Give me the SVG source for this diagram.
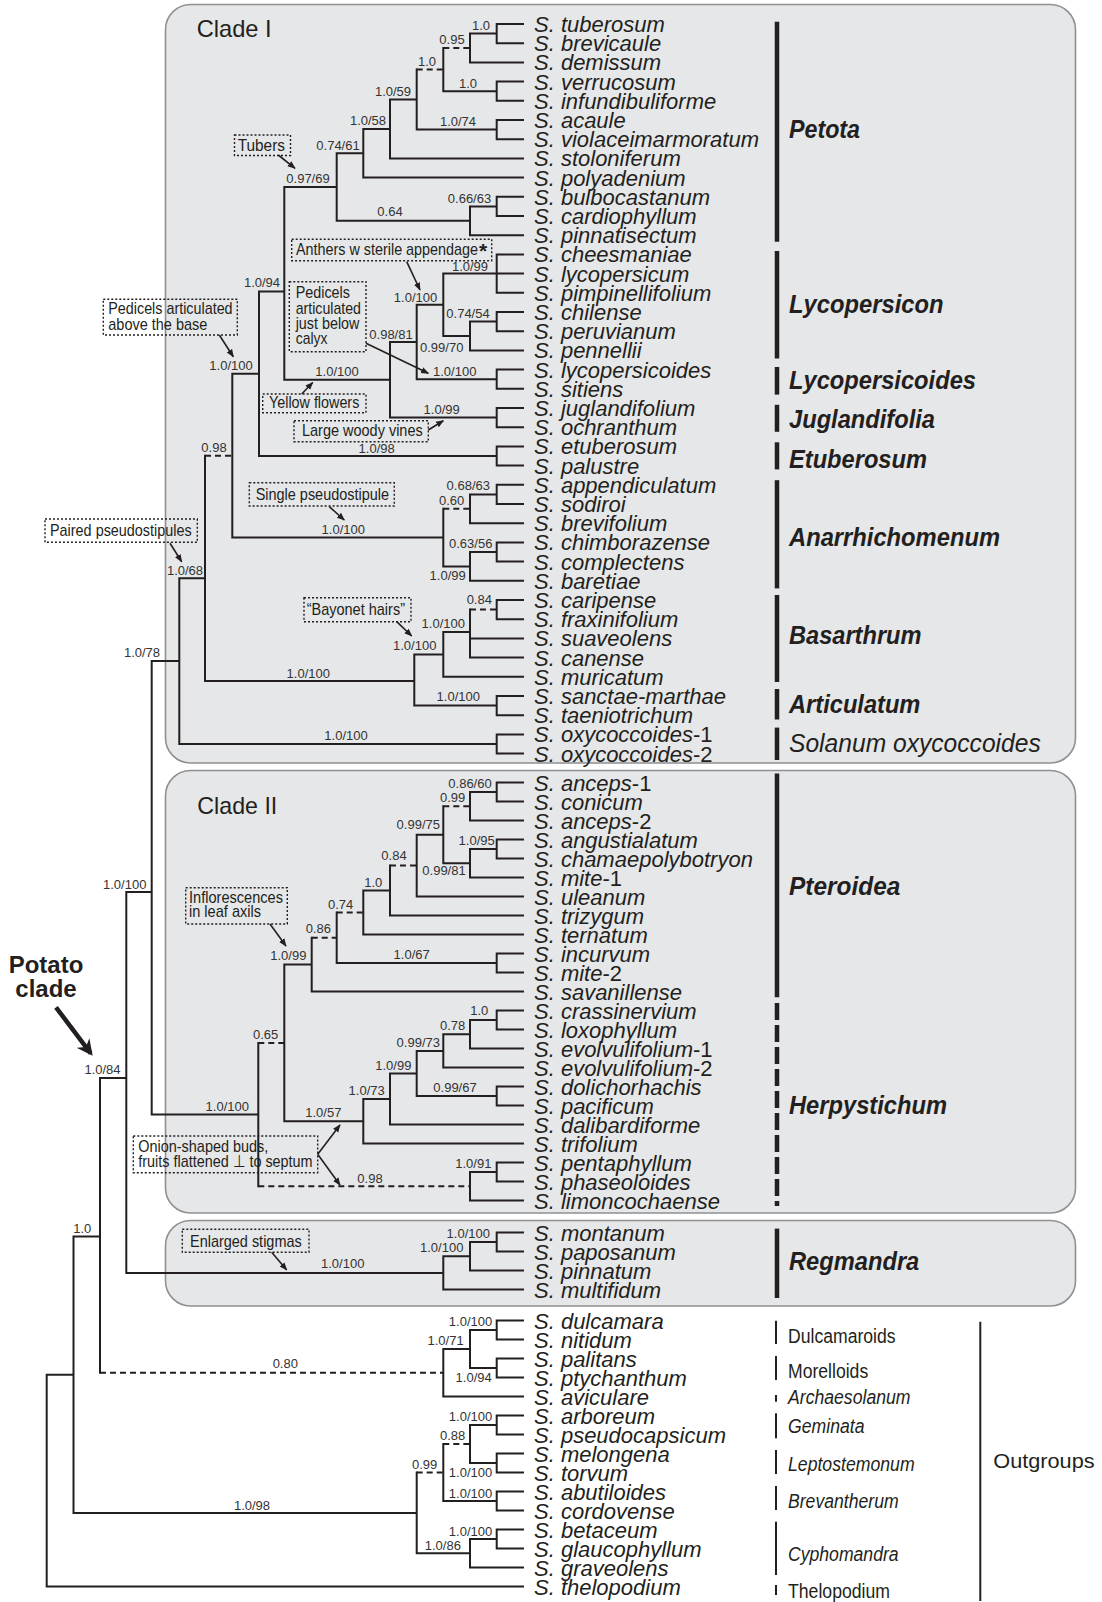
<svg xmlns="http://www.w3.org/2000/svg" width="1102" height="1602" viewBox="0 0 1102 1602">
<style>
.bg{fill:#fff}
.box{fill:#e6e7e8;stroke:#8f9092;stroke-width:1.6}
.br{fill:none;stroke:#231f20;stroke-width:2;stroke-linecap:square}
.da{fill:none;stroke:#231f20;stroke-width:2;stroke-dasharray:6 4}
.bar{stroke:#231f20;stroke-width:4.5}
.thin{stroke:#231f20;stroke-width:2}
.ann{fill:none;stroke:#231f20;stroke-width:1.4;stroke-dasharray:2 2}
.arr{fill:none;stroke:#231f20;stroke-width:1.6}
text{font-family:'Liberation Sans',Arial,sans-serif;fill:#231f20}
.t{font-size:22px;font-style:italic}
.u{font-style:normal}
.s{font-size:13px;fill:#333;text-anchor:middle}
.a{font-size:17px}
.g{font-size:25px;font-weight:bold;font-style:italic}
.gi{font-size:25px;font-style:italic}
.o{font-size:20px}
.oi{font-size:20px;font-style:italic}
.c{font-size:24px}
</style>
<defs>
<marker id="ah" viewBox="0 0 10 10" refX="9" refY="5" markerWidth="8" markerHeight="8" markerUnits="userSpaceOnUse" orient="auto"><path d="M0,1L10,5L0,9z" fill="#231f20"/></marker>
<marker id="ahb" viewBox="0 0 10 10" refX="8" refY="5" markerWidth="16" markerHeight="16" markerUnits="userSpaceOnUse" orient="auto"><path d="M0,0L10,5L0,10L3,5z" fill="#231f20"/></marker>
</defs>
<rect class="bg" x="0" y="0" width="1102" height="1602"/>
<g id="boxes">
<rect id="cladeI-box" class="box" x="165.5" y="4.5" width="910" height="758.5" rx="25"/>
<rect id="cladeII-box" class="box" x="165.5" y="770.5" width="910" height="442.5" rx="25"/>
<rect id="regmandra-box" class="box" x="165.5" y="1220.5" width="910" height="85.5" rx="25"/>
<text class="c" x="196.7" y="36.7" textLength="75" lengthAdjust="spacingAndGlyphs">Clade I</text>
<text class="c" x="197.3" y="814" textLength="80" lengthAdjust="spacingAndGlyphs">Clade II</text>
</g>
<g id="connectors">
<path class="br" d="M496.7 24H523M496.7 43.2H523M470 62.4H523M496.7 81.6H523M496.7 100.8H523M496.7 120H523M496.7 139.2H523M390 158.4H523M363.3 177.6H523M496.7 196.8H523M496.7 216H523M470 235.2H523M496.7 254.4H523M496.7 273.6H523M496.7 292.8H523M496.7 312H523M496.7 331.2H523M470 350.4H523M496.7 369.6H523M496.7 388.8H523M496.7 408H523M496.7 427.2H523M496.7 446.4H523M496.7 465.6H523M496.7 484.8H523M496.7 504H523M470 523.2H523M496.7 542.4H523M496.7 561.6H523M470 580.8H523M496.7 600H523M496.7 619.2H523M470 638.4H523M470 657.6H523M443.3 676.8H523M496.7 696H523M496.7 715.2H523M496.7 734.4H523M496.7 753.6H523
M496.7 24V43.2M470 33.6H496.7M470 33.6V62.4M496.7 81.6V100.8M443.3 91.2H496.7M443.3 48V91.2M496.7 120V139.2M416.7 129.6H496.7M416.7 69.6V129.6M390 99.6H416.7M390 99.6V158.4M363.3 129H390M363.3 129V177.6M336.7 153.3H363.3M496.7 196.8V216M470 206.4H496.7M470 206.4V235.2M336.7 220.8H470M336.7 153.3V220.8M284.3 187H336.7
M496.7 254.4V292.8M443.3 273.6H496.7M496.7 312V331.2M470 321.6H496.7M470 321.6V350.4M443.3 336H470M443.3 273.6V336M416.7 304.8H443.3M496.7 369.6V388.8M416.7 379.2H496.7M416.7 304.8V379.2M390 342H416.7M496.7 408V427.2M390 417.6H496.7M390 342V417.6M284.3 379.8H390M284.3 187V379.8M259 291.5H284.3M496.7 446.4V465.6M259 456H496.7M259 291.5V456M232.3 373.7H259
M496.7 484.8V504M470 494.4H496.7M470 494.4V523.2M496.7 542.4V561.6M470 552H496.7M470 552V580.8M443.3 566.4H470M443.3 508.8V566.4M232.3 537.6H443.3M232.3 373.7V537.6
M496.7 600V619.2M470 609.6V657.6M443.3 632H470M443.3 632V676.8M414.3 654.4H443.3M496.7 696V715.2M414.3 705.6H496.7M414.3 654.4V705.6M205 681H414.3M205 455.7V681M179.3 578.3H205M496.7 734.4V753.6M179.3 744H496.7M179.3 578.3V744M151.7 661H179.3
M496.7 782.5H523M496.7 801.5H523M470 820.5H523M496.7 839.5H523M496.7 858.5H523M470 877.5H523M416.7 896.5H523M390 915.5H523M363.3 934.5H523M496.7 953.5H523M496.7 972.5H523M311.7 991.5H523M496.7 1010.5H523M496.7 1029.5H523M470 1048.5H523M443.3 1067.5H523M496.7 1086.5H523M496.7 1105.5H523M390 1124.5H523M363.3 1143.5H523M496.7 1162.5H523M496.7 1181.5H523M470 1200.5H523
M496.7 782.5V801.5M470 792H496.7M470 792V820.5M496.7 839.5V858.5M470 849H496.7M470 849V877.5M443.3 863.2H470M443.3 806.2V863.2M416.7 834.7H443.3M416.7 834.7V896.5M390 865.6V915.5M363.3 890.5H390M363.3 890.5V934.5M496.7 953.5V972.5M336.7 963H496.7M336.7 912.5V963M311.7 937.7V991.5M284.3 964.6H311.7
M496.7 1010.5V1029.5M470 1020H496.7M470 1020V1048.5M443.3 1034.2H470M443.3 1034.2V1067.5M416.7 1050.9H443.3M496.7 1086.5V1105.5M416.7 1096H496.7M416.7 1050.9V1096M390 1073.4H416.7M390 1073.4V1124.5M363.3 1099H390M363.3 1099V1143.5M284.3 1121.2H363.3M284.3 964.6V1121.2M496.7 1162.5V1181.5M470 1172H496.7M470 1172V1200.5M258.3 1042.9V1186.2M151.7 1114.6H258.3M151.7 661V1114.6M126.3 892H151.7
M496.7 1232.5H523M496.7 1251.5H523M470 1270.5H523M443.3 1289.5H523M496.7 1232.5V1251.5M470 1242H496.7M470 1242V1270.5M443.3 1256.2H470M443.3 1256.2V1289.5M126.3 1272.9H443.3M126.3 892V1272.9M100 1078H126.3
M496.7 1320.5H523M496.7 1339.5H523M496.7 1358.5H523M496.7 1377.5H523M443.3 1396.5H523M496.7 1415.5H523M496.7 1434.5H523M496.7 1453.5H523M496.7 1472.5H523M496.7 1491.5H523M496.7 1510.5H523M496.7 1529.5H523M496.7 1548.5H523M470 1567.5H523M46.7 1586.5H523
M496.7 1320.5V1339.5M470 1330H496.7M496.7 1358.5V1377.5M470 1368H496.7M470 1330V1368M443.3 1349H470M443.3 1349V1396.5M100 1078V1372.7M73.5 1236.5H100M496.7 1415.5V1434.5M470 1425H496.7M496.7 1453.5V1472.5M470 1463H496.7M470 1425V1463M496.7 1491.5V1510.5M443.3 1501H496.7M443.3 1444V1501M496.7 1529.5V1548.5M470 1539H496.7M470 1539V1567.5M416.7 1553.2H470M416.7 1472.5V1553.2M73.5 1512.9H416.7M73.5 1236.5V1512.9M46.7 1374.7H73.5M46.7 1374.7V1586.5"/>
<path class="da" d="M443.3 48H470M416.7 69.6H443.3M443.3 508.8H470M205 455.7H232.3M470 609.6H496.7M443.3 806.2H470M390 865.6H416.7M336.7 912.5H363.3M311.7 937.7H336.7M258.3 1042.9H284.3M258.3 1186.2H470M100 1372.7H443.3M443.3 1444H470M416.7 1472.5H443.3"/>
</g>
<g id="supports">
<text class="s" x="481" y="30">1.0</text>
<text class="s" x="452" y="44">0.95</text>
<text class="s" x="468" y="87.5">1.0</text>
<text class="s" x="427" y="65.5">1.0</text>
<text class="s" x="458" y="125.5">1.0/74</text>
<text class="s" x="393" y="95.5">1.0/59</text>
<text class="s" x="368" y="125">1.0/58</text>
<text class="s" x="338" y="149.5">0.74/61</text>
<text class="s" x="469.5" y="203">0.66/63</text>
<text class="s" x="390" y="216">0.64</text>
<text class="s" x="308" y="183">0.97/69</text>
<text class="s" x="470" y="271">1.0/99</text>
<text class="s" x="468" y="318">0.74/54</text>
<text class="s" x="441.7" y="351.5">0.99/70</text>
<text class="s" x="415.5" y="301.5">1.0/100</text>
<text class="s" x="454.7" y="375.5">1.0/100</text>
<text class="s" x="391" y="338.5">0.98/81</text>
<text class="s" x="441.7" y="413.5">1.0/99</text>
<text class="s" x="337" y="376">1.0/100</text>
<text class="s" x="262" y="287">1.0/94</text>
<text class="s" x="376.7" y="452.5">1.0/98</text>
<text class="s" x="231" y="369.5">1.0/100</text>
<text class="s" x="214" y="451.5">0.98</text>
<text class="s" x="468.3" y="490">0.68/63</text>
<text class="s" x="451.7" y="504.5">0.60</text>
<text class="s" x="470.7" y="548">0.63/56</text>
<text class="s" x="447.7" y="580">1.0/99</text>
<text class="s" x="343.3" y="534">1.0/100</text>
<text class="s" x="479.3" y="604">0.84</text>
<text class="s" x="443.3" y="627.5">1.0/100</text>
<text class="s" x="414.7" y="650">1.0/100</text>
<text class="s" x="458.3" y="701">1.0/100</text>
<text class="s" x="308.3" y="678">1.0/100</text>
<text class="s" x="185" y="575">1.0/68</text>
<text class="s" x="346" y="740">1.0/100</text>
<text class="s" x="142" y="657">1.0/78</text>
<text class="s" x="470" y="788">0.86/60</text>
<text class="s" x="452.7" y="801.5">0.99</text>
<text class="s" x="476.7" y="845">1.0/95</text>
<text class="s" x="444" y="874.5">0.99/81</text>
<text class="s" x="418.3" y="829">0.99/75</text>
<text class="s" x="394" y="860">0.84</text>
<text class="s" x="373.3" y="886.5">1.0</text>
<text class="s" x="340.7" y="908.5">0.74</text>
<text class="s" x="411.7" y="958.5">1.0/67</text>
<text class="s" x="318.3" y="933">0.86</text>
<text class="s" x="288.3" y="960">1.0/99</text>
<text class="s" x="479.3" y="1015">1.0</text>
<text class="s" x="452.7" y="1030">0.78</text>
<text class="s" x="418.3" y="1046.5">0.99/73</text>
<text class="s" x="455" y="1092">0.99/67</text>
<text class="s" x="393.3" y="1069.5">1.0/99</text>
<text class="s" x="366.7" y="1095">1.0/73</text>
<text class="s" x="323.3" y="1116.5">1.0/57</text>
<text class="s" x="265.7" y="1038.5">0.65</text>
<text class="s" x="473.3" y="1168">1.0/91</text>
<text class="s" x="370" y="1182.5">0.98</text>
<text class="s" x="227.3" y="1110.5">1.0/100</text>
<text class="s" x="124.7" y="888.5">1.0/100</text>
<text class="s" x="468.3" y="1237.5">1.0/100</text>
<text class="s" x="441.7" y="1252">1.0/100</text>
<text class="s" x="342.7" y="1268">1.0/100</text>
<text class="s" x="102.5" y="1073.5">1.0/84</text>
<text class="s" x="470.5" y="1325.5">1.0/100</text>
<text class="s" x="473.7" y="1381.5">1.0/94</text>
<text class="s" x="445.6" y="1345">1.0/71</text>
<text class="s" x="285.3" y="1368">0.80</text>
<text class="s" x="82.3" y="1233">1.0</text>
<text class="s" x="470.5" y="1421">1.0/100</text>
<text class="s" x="470.5" y="1477">1.0/100</text>
<text class="s" x="452.6" y="1440">0.88</text>
<text class="s" x="424.6" y="1469">0.99</text>
<text class="s" x="470.5" y="1497.5">1.0/100</text>
<text class="s" x="470.5" y="1535.5">1.0/100</text>
<text class="s" x="442.8" y="1550">1.0/86</text>
<text class="s" x="252" y="1509.5">1.0/98</text>
</g>
<g id="annotations">
<rect class="ann" x="234.5" y="135" width="56" height="20.5"/>
<text class="a" x="237.7" y="151" textLength="47.3" lengthAdjust="spacingAndGlyphs">Tubers</text>
<line class="arr" x1="278.3" y1="155" x2="295" y2="168.3" marker-end="url(#ah)"/>
<rect class="ann" x="291.7" y="239.3" width="200" height="21.4"/>
<text class="a" x="296" y="255" textLength="182" lengthAdjust="spacingAndGlyphs">Anthers w sterile appendage</text>
<text x="479" y="258" style="font-size:21px;font-weight:bold">*</text>
<line class="arr" x1="406.7" y1="261.7" x2="420" y2="290" marker-end="url(#ah)"/>
<rect class="ann" x="289.3" y="281.7" width="76.7" height="70"/>
<text class="a" x="295.7" y="298.3" textLength="54.3" lengthAdjust="spacingAndGlyphs">Pedicels</text>
<text class="a" x="295.7" y="313.5" textLength="65.3" lengthAdjust="spacingAndGlyphs">articulated</text>
<text class="a" x="295.7" y="329" textLength="63.7" lengthAdjust="spacingAndGlyphs">just below</text>
<text class="a" x="295.7" y="343.5" textLength="31.7" lengthAdjust="spacingAndGlyphs">calyx</text>
<line class="arr" x1="366" y1="343.3" x2="428.3" y2="373.3" marker-end="url(#ah)"/>
<rect class="ann" x="262.7" y="394" width="103.3" height="18.7"/>
<text class="a" x="269" y="408" textLength="90.3" lengthAdjust="spacingAndGlyphs">Yellow flowers</text>
<line class="arr" x1="301.7" y1="394" x2="312.7" y2="382.5" marker-end="url(#ah)"/>
<rect class="ann" x="294" y="420.7" width="134.3" height="21"/>
<text class="a" x="302" y="435.5" textLength="120.7" lengthAdjust="spacingAndGlyphs">Large woody vines</text>
<line class="arr" x1="428.3" y1="430" x2="443.3" y2="420.7" marker-end="url(#ah)"/>
<rect class="ann" x="103.3" y="299.3" width="134" height="35.7"/>
<text class="a" x="108.3" y="314" textLength="124.3" lengthAdjust="spacingAndGlyphs">Pedicels articulated</text>
<text class="a" x="108.3" y="330" textLength="99" lengthAdjust="spacingAndGlyphs">above the base</text>
<line class="arr" x1="219.3" y1="335" x2="233.3" y2="356.7" marker-end="url(#ah)"/>
<rect class="ann" x="249.3" y="482.7" width="145" height="23.3"/>
<text class="a" x="255.7" y="500" textLength="133.3" lengthAdjust="spacingAndGlyphs">Single pseudostipule</text>
<line class="arr" x1="329.3" y1="506.7" x2="344.3" y2="520" marker-end="url(#ah)"/>
<rect class="ann" x="45" y="519" width="152.3" height="23.3"/>
<text class="a" x="50" y="536" textLength="141.7" lengthAdjust="spacingAndGlyphs">Paired pseudostipules</text>
<line class="arr" x1="170" y1="543.3" x2="181.7" y2="561.7" marker-end="url(#ah)"/>
<rect class="ann" x="304" y="597.7" width="107" height="24"/>
<text class="a" x="306.7" y="615" textLength="98.3" lengthAdjust="spacingAndGlyphs">“Bayonet hairs”</text>
<line class="arr" x1="396.7" y1="621.7" x2="411.7" y2="636" marker-end="url(#ah)"/>
<rect class="ann" x="185.7" y="887.7" width="101.6" height="36.3"/>
<text class="a" x="189" y="902.5" textLength="94" lengthAdjust="spacingAndGlyphs">Inflorescences</text>
<text class="a" x="189" y="917" textLength="72" lengthAdjust="spacingAndGlyphs">in leaf axils</text>
<line class="arr" x1="270" y1="924" x2="286" y2="946" marker-end="url(#ah)"/>
<rect class="ann" x="133.3" y="1136" width="184.4" height="36.7"/>
<text class="a" x="138.3" y="1152.3" textLength="130" lengthAdjust="spacingAndGlyphs">Onion-shaped buds,</text>
<text class="a" x="138.3" y="1167.3" textLength="174.3" lengthAdjust="spacingAndGlyphs">fruits flattened ⊥ to septum</text>
<line class="arr" x1="317.7" y1="1154.3" x2="340" y2="1125" marker-end="url(#ah)"/>
<line class="arr" x1="317.7" y1="1154.3" x2="340" y2="1185" marker-end="url(#ah)"/>
<rect class="ann" x="182.3" y="1229.3" width="126.7" height="23"/>
<text class="a" x="190" y="1246.7" textLength="111.7" lengthAdjust="spacingAndGlyphs">Enlarged stigmas</text>
<line class="arr" x1="271.7" y1="1252.3" x2="286.7" y2="1270" marker-end="url(#ah)"/>
<text x="46" y="972.7" text-anchor="middle" style="font-size:24px;font-weight:bold">Potato</text>
<text x="46" y="997.3" text-anchor="middle" style="font-size:24px;font-weight:bold">clade</text>
<line x1="56" y1="1007.3" x2="90.7" y2="1053.3" stroke="#231f20" stroke-width="4.5" marker-end="url(#ahb)"/>
</g>
<g id="taxa">
<text class="t" x="534" y="32">S. tuberosum</text>
<text class="t" x="534" y="51.2">S. brevicaule</text>
<text class="t" x="534" y="70.4">S. demissum</text>
<text class="t" x="534" y="89.6">S. verrucosum</text>
<text class="t" x="534" y="108.8">S. infundibuliforme</text>
<text class="t" x="534" y="128">S. acaule</text>
<text class="t" x="534" y="147.2">S. violaceimarmoratum</text>
<text class="t" x="534" y="166.4">S. stoloniferum</text>
<text class="t" x="534" y="185.6">S. polyadenium</text>
<text class="t" x="534" y="204.8">S. bulbocastanum</text>
<text class="t" x="534" y="224">S. cardiophyllum</text>
<text class="t" x="534" y="243.2">S. pinnatisectum</text>
<text class="t" x="534" y="262.4">S. cheesmaniae</text>
<text class="t" x="534" y="281.6">S. lycopersicum</text>
<text class="t" x="534" y="300.8">S. pimpinellifolium</text>
<text class="t" x="534" y="320">S. chilense</text>
<text class="t" x="534" y="339.2">S. peruvianum</text>
<text class="t" x="534" y="358.4">S. pennellii</text>
<text class="t" x="534" y="377.6">S. lycopersicoides</text>
<text class="t" x="534" y="396.8">S. sitiens</text>
<text class="t" x="534" y="416">S. juglandifolium</text>
<text class="t" x="534" y="435.2">S. ochranthum</text>
<text class="t" x="534" y="454.4">S. etuberosum</text>
<text class="t" x="534" y="473.6">S. palustre</text>
<text class="t" x="534" y="492.8">S. appendiculatum</text>
<text class="t" x="534" y="512">S. sodiroi</text>
<text class="t" x="534" y="531.2">S. brevifolium</text>
<text class="t" x="534" y="550.4">S. chimborazense</text>
<text class="t" x="534" y="569.6">S. complectens</text>
<text class="t" x="534" y="588.8">S. baretiae</text>
<text class="t" x="534" y="608">S. caripense</text>
<text class="t" x="534" y="627.2">S. fraxinifolium</text>
<text class="t" x="534" y="646.4">S. suaveolens</text>
<text class="t" x="534" y="665.6">S. canense</text>
<text class="t" x="534" y="684.8">S. muricatum</text>
<text class="t" x="534" y="704">S. sanctae-marthae</text>
<text class="t" x="534" y="723.2">S. taeniotrichum</text>
<text class="t" x="534" y="742.4">S. oxycoccoides<tspan class="u">-1</tspan></text>
<text class="t" x="534" y="761.6">S. oxycoccoides<tspan class="u">-2</tspan></text>
<text class="t" x="534" y="790.5">S. anceps<tspan class="u">-1</tspan></text>
<text class="t" x="534" y="809.5">S. conicum</text>
<text class="t" x="534" y="828.5">S. anceps<tspan class="u">-2</tspan></text>
<text class="t" x="534" y="847.5">S. angustialatum</text>
<text class="t" x="534" y="866.5">S. chamaepolybotryon</text>
<text class="t" x="534" y="885.5">S. mite<tspan class="u">-1</tspan></text>
<text class="t" x="534" y="904.5">S. uleanum</text>
<text class="t" x="534" y="923.5">S. trizygum</text>
<text class="t" x="534" y="942.5">S. ternatum</text>
<text class="t" x="534" y="961.5">S. incurvum</text>
<text class="t" x="534" y="980.5">S. mite<tspan class="u">-2</tspan></text>
<text class="t" x="534" y="999.5">S. savanillense</text>
<text class="t" x="534" y="1018.5">S. crassinervium</text>
<text class="t" x="534" y="1037.5">S. loxophyllum</text>
<text class="t" x="534" y="1056.5">S. evolvulifolium<tspan class="u">-1</tspan></text>
<text class="t" x="534" y="1075.5">S. evolvulifolium<tspan class="u">-2</tspan></text>
<text class="t" x="534" y="1094.5">S. dolichorhachis</text>
<text class="t" x="534" y="1113.5">S. pacificum</text>
<text class="t" x="534" y="1132.5">S. dalibardiforme</text>
<text class="t" x="534" y="1151.5">S. trifolium</text>
<text class="t" x="534" y="1170.5">S. pentaphyllum</text>
<text class="t" x="534" y="1189.5">S. phaseoloides</text>
<text class="t" x="534" y="1208.5">S. limoncochaense</text>
<text class="t" x="534" y="1240.5">S. montanum</text>
<text class="t" x="534" y="1259.5">S. paposanum</text>
<text class="t" x="534" y="1278.5">S. pinnatum</text>
<text class="t" x="534" y="1297.5">S. multifidum</text>
<text class="t" x="534" y="1328.5">S. dulcamara</text>
<text class="t" x="534" y="1347.5">S. nitidum</text>
<text class="t" x="534" y="1366.5">S. palitans</text>
<text class="t" x="534" y="1385.5">S. ptychanthum</text>
<text class="t" x="534" y="1404.5">S. aviculare</text>
<text class="t" x="534" y="1423.5">S. arboreum</text>
<text class="t" x="534" y="1442.5">S. pseudocapsicum</text>
<text class="t" x="534" y="1461.5">S. melongena</text>
<text class="t" x="534" y="1480.5">S. torvum</text>
<text class="t" x="534" y="1499.5">S. abutiloides</text>
<text class="t" x="534" y="1518.5">S. cordovense</text>
<text class="t" x="534" y="1537.5">S. betaceum</text>
<text class="t" x="534" y="1556.5">S. glaucophyllum</text>
<text class="t" x="534" y="1575.5">S. graveolens</text>
<text class="t" x="534" y="1594.5">S. thelopodium</text>
</g>
<g id="groups">
<line class="bar" x1="777" y1="21.7" x2="777" y2="241.8"/>
<text class="g" x="789" y="138.3" textLength="71" lengthAdjust="spacingAndGlyphs">Petota</text>
<line class="bar" x1="777" y1="251" x2="777" y2="358.5"/>
<text class="g" x="789" y="312.8" textLength="154.5" lengthAdjust="spacingAndGlyphs">Lycopersicon</text>
<line class="bar" x1="777" y1="367" x2="777" y2="394.6"/>
<text class="g" x="789" y="389" textLength="187" lengthAdjust="spacingAndGlyphs">Lycopersicoides</text>
<line class="bar" x1="777" y1="404.8" x2="777" y2="431.8"/>
<text class="g" x="789" y="427.8" textLength="146" lengthAdjust="spacingAndGlyphs">Juglandifolia</text>
<line class="bar" x1="777" y1="442.3" x2="777" y2="469.4"/>
<text class="g" x="789" y="467.7" textLength="138" lengthAdjust="spacingAndGlyphs">Etuberosum</text>
<line class="bar" x1="777" y1="480.2" x2="777" y2="588.4"/>
<text class="g" x="789" y="546" textLength="211" lengthAdjust="spacingAndGlyphs">Anarrhichomenum</text>
<line class="bar" x1="777" y1="595" x2="777" y2="682"/>
<text class="g" x="789" y="644" textLength="132.5" lengthAdjust="spacingAndGlyphs">Basarthrum</text>
<line class="bar" x1="777" y1="689" x2="777" y2="719.5"/>
<text class="g" x="789" y="712.8" textLength="131.4" lengthAdjust="spacingAndGlyphs">Articulatum</text>
<line class="bar" x1="777" y1="727.6" x2="777" y2="760"/>
<text class="gi" x="789" y="752.3" textLength="251.8" lengthAdjust="spacingAndGlyphs">Solanum oxycoccoides</text>
<line class="bar" x1="777" y1="773.4" x2="777" y2="997.2"/>
<text class="g" x="789" y="895.3" textLength="111.3" lengthAdjust="spacingAndGlyphs">Pteroidea</text>
<line class="bar" x1="777" y1="1003" x2="777" y2="1206" stroke-dasharray="17 5"/>
<text class="g" x="789" y="1114.3" textLength="158" lengthAdjust="spacingAndGlyphs">Herpystichum</text>
<line class="bar" x1="777" y1="1228.6" x2="777" y2="1298"/>
<text class="g" x="789" y="1270" textLength="130.3" lengthAdjust="spacingAndGlyphs">Regmandra</text>
<line class="thin" x1="776" y1="1320.7" x2="776" y2="1344"/>
<text class="o" x="788" y="1342.5" textLength="107.6" lengthAdjust="spacingAndGlyphs">Dulcamaroids</text>
<line class="thin" x1="776" y1="1356" x2="776" y2="1380"/>
<text class="o" x="788" y="1378.3" textLength="80.2" lengthAdjust="spacingAndGlyphs">Morelloids</text>
<line class="thin" x1="776" y1="1395" x2="776" y2="1401.7"/>
<text class="oi" x="788" y="1404" textLength="122.5" lengthAdjust="spacingAndGlyphs">Archaesolanum</text>
<line class="thin" x1="776" y1="1413.3" x2="776" y2="1438.3"/>
<text class="oi" x="788" y="1432.7" textLength="76.5" lengthAdjust="spacingAndGlyphs">Geminata</text>
<line class="thin" x1="776" y1="1450" x2="776" y2="1474"/>
<text class="oi" x="788" y="1470.7" textLength="126.6" lengthAdjust="spacingAndGlyphs">Leptostemonum</text>
<line class="thin" x1="776" y1="1486" x2="776" y2="1510"/>
<text class="oi" x="788" y="1508.3" textLength="110.6" lengthAdjust="spacingAndGlyphs">Brevantherum</text>
<line class="thin" x1="776" y1="1521.7" x2="776" y2="1575"/>
<text class="oi" x="788" y="1561" textLength="110.6" lengthAdjust="spacingAndGlyphs">Cyphomandra</text>
<line class="thin" x1="776" y1="1585" x2="776" y2="1595"/>
<text class="o" x="788" y="1598.3" textLength="102" lengthAdjust="spacingAndGlyphs">Thelopodium</text>
<line class="thin" x1="980.3" y1="1321.7" x2="980.3" y2="1601"/>
<text class="o" x="993.3" y="1468.3" textLength="101.3" lengthAdjust="spacingAndGlyphs">Outgroups</text>
</g>
</svg>
